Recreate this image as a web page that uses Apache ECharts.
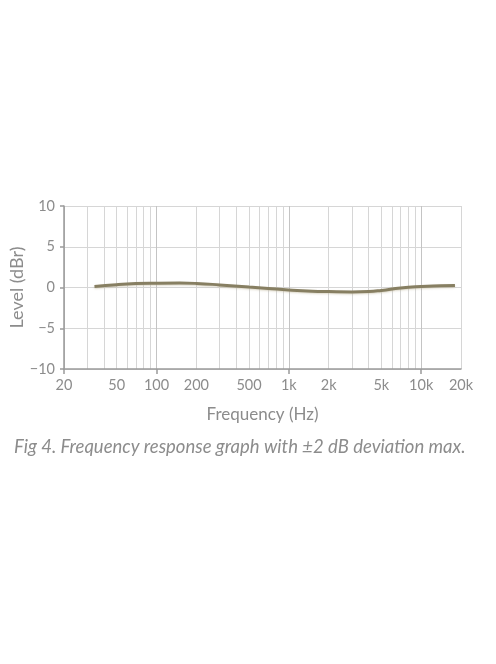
<!DOCTYPE html>
<html>
<head>
    <meta charset="utf-8">
    <title>Frequency response</title>
    <script src="https://cdn.jsdelivr.net/npm/echarts@6/dist/echarts.min.js"></script>
    <style>
        html, body { margin: 0; padding: 0; background: #fff; }
        #container { width: 496px; height: 664px; }
    </style>
</head>
<body>
    <div id="container"></div>
    <script type="text/javascript">
        var freqs  = [34, 50, 70, 100, 150, 200, 300, 500, 700, 1000, 1500, 2000, 3000, 4000, 5000, 7000, 10000, 14000, 18000];
        var levels = [0.12, 0.35, 0.48, 0.53, 0.55, 0.5, 0.32, 0.05, -0.12, -0.3, -0.45, -0.5, -0.54, -0.5, -0.36, -0.05, 0.12, 0.2, 0.25];

        // axis marks
        var gridFreqs  = [20, 30, 40, 50, 60, 70, 80, 90, 100, 200, 300, 400, 500, 600, 700, 800, 900,
                          1000, 2000, 3000, 4000, 5000, 6000, 7000, 8000, 9000, 10000, 20000];
        var labelFreqs = [20, 50, 100, 200, 500, 1000, 2000, 5000, 10000, 20000];
        var majorFreqs = [20, 100, 1000, 10000];

        var caption = 'Fig 4. Frequency response graph with \u00b12 dB deviation max.';

        var textColor = '#8c8c8c';
        var font = 'Lato';

        var points = [];
        for (var i = 0; i < freqs.length; i++) {
            points.push([freqs[i], levels[i]]);
        }

        function fmtHz(v) {
            return v >= 1000 ? (v / 1000) + 'k' : String(v);
        }

        var myChart = echarts.init(document.getElementById('container'));

        var option = {
            animation: false,
            textStyle: { fontFamily: font },
            title: {
                text: caption,
                left: 9,
                top: 433,
                textStyle: {
                    color: textColor,
                    fontSize: 18.5,
                    fontStyle: 'italic',
                    fontWeight: 'normal',
                    fontFamily: font
                }
            },
            grid: {
                left: 64,
                right: 35,
                top: 206,
                bottom: 295,
                outerBoundsMode: 'none'
            },
            xAxis: [
                {
                    type: 'log',
                    logBase: 10,
                    min: 20,
                    max: 20000,
                    name: 'Frequency (Hz)',
                    nameLocation: 'middle',
                    nameGap: 37,
                    nameMoveOverlap: false,
                    nameTextStyle: { color: textColor, fontSize: 17, fontFamily: font },
                    axisLine: { show: false },
                    axisTick: { show: false, customValues: gridFreqs },
                    axisLabel: {
                        customValues: labelFreqs,
                        formatter: fmtHz,
                        color: textColor,
                        fontSize: 14.5,
                        margin: 9
                    },
                    splitLine: { show: true, lineStyle: { color: '#d6d6d6', width: 1 } },
                    minorSplitLine: { show: false }
                },
                {
                    type: 'log',
                    logBase: 10,
                    min: 20,
                    max: 20000,
                    position: 'bottom',
                    axisLine: { show: true, onZero: false, lineStyle: { color: '#9a9a9a', width: 1.5 } },
                    axisTick: { show: true, customValues: majorFreqs, length: 5, lineStyle: { color: '#9a9a9a', width: 1.5 } },
                    axisLabel: { show: false, customValues: majorFreqs },
                    splitLine: { show: true, lineStyle: { color: '#c4c4c4', width: 1 } }
                }
            ],
            yAxis: {
                type: 'value',
                min: -10,
                max: 10,
                interval: 5,
                name: 'Level (dBr)',
                nameLocation: 'middle',
                nameGap: 38,
                nameMoveOverlap: false,
                nameRotate: 90,
                nameTextStyle: { color: textColor, fontSize: 18, fontFamily: font },
                axisLine: { show: true, lineStyle: { color: '#9a9a9a', width: 1.5 } },
                axisTick: { show: true, length: 4, lineStyle: { color: '#9a9a9a', width: 1.5 } },
                axisLabel: {
                    color: textColor,
                    fontSize: 14.5,
                    margin: 9,
                    formatter: function (v) { return v < 0 ? '\u2212' + Math.abs(v) : String(v); }
                },
                splitLine: { show: true, lineStyle: { color: '#d6d6d6', width: 1 } }
            },
            series: [
                {
                    name: 'Level',
                    type: 'line',
                    data: points,
                    smooth: 0.5,
                    showSymbol: false,
                    lineStyle: {
                        color: '#877f62',
                        width: 3,
                        shadowColor: 'rgba(190, 180, 150, 0.5)',
                        shadowBlur: 2,
                        shadowOffsetY: 1
                    }
                }
            ]
        };

        myChart.setOption(option);
    </script>
</body>
</html>
